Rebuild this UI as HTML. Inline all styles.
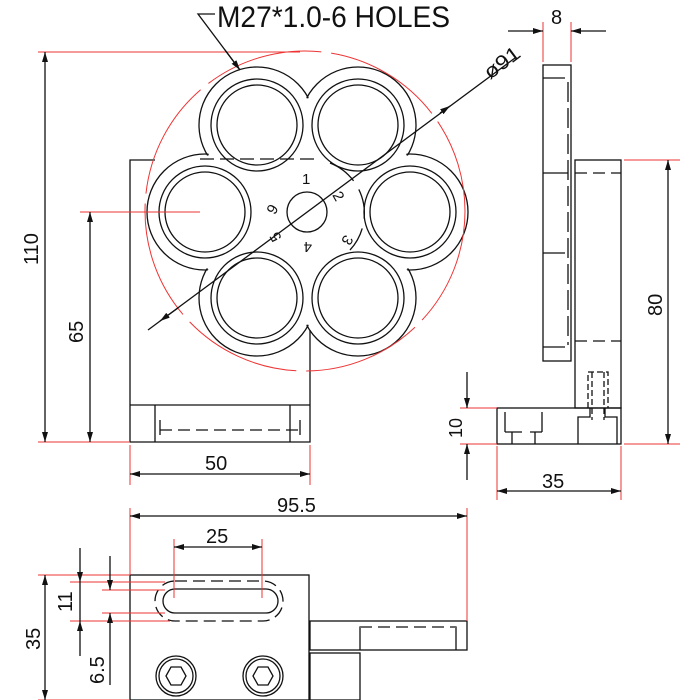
<!DOCTYPE html>
<html><head><meta charset="utf-8"><style>
html,body{margin:0;padding:0;background:#fff}
svg{display:block}
text{font-family:"Liberation Sans",sans-serif;fill:#111}
</style></head><body>
<svg width="700" height="700" viewBox="0 0 700 700" xmlns="http://www.w3.org/2000/svg">
<defs>
<marker id="a" viewBox="0 0 10 6" refX="10" refY="3" markerWidth="10" markerHeight="6" orient="auto-start-reverse" markerUnits="userSpaceOnUse"><path d="M0,0 L10,3 L0,6 z" fill="#111"/></marker>
</defs>
<g stroke="#111" stroke-width="1.3" fill="none">
<path d="M155,160 H130 V442 H310 V345"/>
<line x1="130" y1="405" x2="310" y2="405"/>
<line x1="155" y1="405" x2="155" y2="442"/>
<line x1="290" y1="405" x2="290" y2="442"/>
<line x1="160" y1="430" x2="300" y2="430" stroke-dasharray="12,6"/>
<line x1="160" y1="420" x2="160" y2="435"/>
<line x1="300" y1="420" x2="300" y2="435"/>
<g>
<circle cx="257" cy="125" r="58"/><circle cx="358" cy="125" r="58"/>
<circle cx="205" cy="212" r="58"/><circle cx="410" cy="212" r="58"/>
<circle cx="257" cy="298" r="58"/><circle cx="358" cy="298" r="58"/>
</g>
<g fill="#fff" stroke="none">
<circle cx="257" cy="125" r="56.5"/><circle cx="358" cy="125" r="56.5"/>
<circle cx="205" cy="212" r="56.5"/><circle cx="410" cy="212" r="56.5"/>
<circle cx="257" cy="298" r="56.5"/><circle cx="358" cy="298" r="56.5"/>
<polygon points="257,125 358,125 410,212 358,298 257,298 205,212"/>
</g>
<line x1="200" y1="159" x2="320" y2="159" stroke-dasharray="14,6"/>
<g>
<circle cx="257" cy="125" r="46"/><circle cx="257" cy="125" r="40"/>
<circle cx="358" cy="125" r="46"/><circle cx="358" cy="125" r="40"/>
<circle cx="205" cy="212" r="46"/><circle cx="205" cy="212" r="40"/>
<circle cx="410" cy="212" r="46"/><circle cx="410" cy="212" r="40"/>
<circle cx="257" cy="298" r="46"/><circle cx="257" cy="298" r="40"/>
<circle cx="358" cy="298" r="46"/><circle cx="358" cy="298" r="40"/>
<circle cx="307" cy="212" r="20"/>
<path d="M330,163 A54,54 0 0 1 350,250" stroke-dasharray="30,10"/>
</g>
<line x1="310" y1="330" x2="310" y2="345"/>
<circle cx="305" cy="211" r="160" stroke="#e33" stroke-width="1" stroke-dasharray="120,10"/>
<g stroke="#e33" stroke-width="1">
<line x1="38" y1="52" x2="300" y2="52"/>
<line x1="38" y1="442" x2="130" y2="442"/>
<line x1="80" y1="212" x2="200" y2="212"/>
<line x1="130" y1="445" x2="130" y2="485"/>
<line x1="310" y1="445" x2="310" y2="485"/>
</g>
<line x1="45" y1="52" x2="45" y2="442" marker-start="url(#a)" marker-end="url(#a)"/>
<line x1="90" y1="212" x2="90" y2="442" marker-start="url(#a)" marker-end="url(#a)"/>
<line x1="130" y1="474" x2="310" y2="474" marker-start="url(#a)" marker-end="url(#a)"/>
<line x1="148" y1="330" x2="515" y2="58"/>
<line x1="160" y1="321" x2="178" y2="308" marker-start="url(#a)"/>
<line x1="440" y1="113" x2="450" y2="106" marker-end="url(#a)"/>
<polyline points="215,14 198,14 240,70"/>
<line x1="225" y1="50" x2="240" y2="70" marker-end="url(#a)"/>
<rect x="543" y="65" width="28" height="296"/>
<line x1="543" y1="78" x2="565" y2="78"/><line x1="543" y1="173" x2="568" y2="173"/>
<line x1="543" y1="253" x2="565" y2="253"/><line x1="543" y1="347" x2="565" y2="347"/>
<line x1="568" y1="82" x2="568" y2="345" stroke-dasharray="20,6"/>
<rect x="575" y="160" width="46" height="248"/>
<line x1="575" y1="173" x2="621" y2="173" stroke-dasharray="12,6"/>
<line x1="575" y1="341" x2="621" y2="341" stroke-dasharray="12,6"/>
<rect x="497" y="408" width="124" height="36"/>
<path d="M505,412 V432 M542,412 V432 M512,432 V444 M535,432 V444 M505,432 H522 M530,432 H542"/>
<path d="M578,444 V417 H590 V408 M617,444 V417 H605 V408"/>
<path d="M588,408 V372 H608 V408 M592,372 V420 M604,372 V420" stroke-dasharray="6,3"/>
<g stroke="#e33" stroke-width="1">
<line x1="543" y1="22" x2="543" y2="62"/><line x1="571" y1="22" x2="571" y2="62"/>
<line x1="624" y1="160" x2="680" y2="160"/><line x1="624" y1="444" x2="680" y2="444"/>
<line x1="460" y1="408" x2="497" y2="408"/><line x1="460" y1="444" x2="497" y2="444"/>
<line x1="497" y1="446" x2="497" y2="500"/><line x1="621" y1="446" x2="621" y2="500"/>
</g>
<line x1="508" y1="31" x2="543" y2="31" marker-end="url(#a)"/>
<line x1="606" y1="31" x2="571" y2="31" marker-end="url(#a)"/>
<line x1="668" y1="160" x2="668" y2="444" marker-start="url(#a)" marker-end="url(#a)"/>
<line x1="497" y1="491" x2="621" y2="491" marker-start="url(#a)" marker-end="url(#a)"/>
<line x1="467" y1="372" x2="467" y2="408" marker-end="url(#a)"/>
<line x1="467" y1="480" x2="467" y2="444" marker-end="url(#a)"/>
<rect x="130" y="575" width="179" height="125"/>
<rect x="163" y="589" width="115" height="24" rx="12"/>
<rect x="155" y="581" width="128" height="40" rx="20" stroke-dasharray="12,6"/>
<rect x="310" y="621" width="157" height="29"/>
<path d="M360,650 V627 H456 V650" />
<line x1="360" y1="627" x2="456" y2="627" stroke="#fff" stroke-width="2"/>
<line x1="360" y1="627" x2="456" y2="627" stroke-dasharray="12,6"/>
<rect x="310" y="653" width="50" height="47"/>
<circle cx="176" cy="676" r="20"/><circle cx="176" cy="676" r="17"/>
<polygon points="166,676 171,667 181,667 186,676 181,685 171,685"/>
<circle cx="263" cy="676" r="20"/><circle cx="263" cy="676" r="17"/>
<polygon points="253,676 258,667 268,667 273,676 268,685 258,685"/>
<g stroke="#e33" stroke-width="1">
<line x1="130" y1="508" x2="130" y2="575"/><line x1="467" y1="508" x2="467" y2="621"/>
<line x1="174" y1="539" x2="174" y2="598"/><line x1="262" y1="539" x2="262" y2="598"/>
<line x1="38" y1="575" x2="130" y2="575"/><line x1="38" y1="700" x2="130" y2="700"/>
<line x1="70" y1="582" x2="165" y2="582"/><line x1="70" y1="621" x2="170" y2="621"/>
<line x1="102" y1="590" x2="165" y2="590"/><line x1="102" y1="613" x2="165" y2="613"/>
</g>
<line x1="130" y1="516" x2="467" y2="516" marker-start="url(#a)" marker-end="url(#a)"/>
<line x1="174" y1="547" x2="262" y2="547" marker-start="url(#a)" marker-end="url(#a)"/>
<line x1="45" y1="575" x2="45" y2="700" marker-start="url(#a)" marker-end="url(#a)"/>
<line x1="80" y1="548" x2="80" y2="582" marker-end="url(#a)"/>
<line x1="80" y1="656" x2="80" y2="621" marker-end="url(#a)"/>
<line x1="80" y1="582" x2="80" y2="621"/>
<line x1="110" y1="556" x2="110" y2="590" marker-end="url(#a)"/>
<line x1="110" y1="685" x2="110" y2="613" marker-end="url(#a)"/>
</g>
<text x="217" y="27" font-size="30" textLength="233" lengthAdjust="spacingAndGlyphs">M27*1.0-6 HOLES</text>
<text font-size="20" transform="translate(490,80) rotate(-37)" textLength="40" lengthAdjust="spacingAndGlyphs">ø91</text>
<text font-size="20" transform="translate(38,265) rotate(-90)">110</text>
<text font-size="20" transform="translate(83,343) rotate(-90)">65</text>
<text x="205" y="470" font-size="20">50</text>
<text x="551" y="24" font-size="20">8</text>
<text font-size="20" transform="translate(662,316) rotate(-90)">80</text>
<text font-size="18" transform="translate(462,438) rotate(-90)">10</text>
<text x="542" y="488" font-size="20">35</text>
<text x="277" y="512" font-size="20">95.5</text>
<text x="206" y="543" font-size="20">25</text>
<text font-size="20" transform="translate(72,612) rotate(-90)">11</text>
<text font-size="20" transform="translate(104,684) rotate(-90)">6.5</text>
<text font-size="20" transform="translate(40,650) rotate(-90)">35</text>
<text x="302" y="184" font-size="15">1</text>
<text font-size="15" transform="translate(332,195) rotate(60)">2</text>
<text font-size="15" transform="translate(345,234) rotate(120)">3</text>
<text font-size="15" transform="translate(312,242) rotate(180)">4</text>
<text font-size="15" transform="translate(282,238) rotate(240)">5</text>
<text font-size="15" transform="translate(270,203) rotate(120)">6</text>
</svg>
</body></html>
